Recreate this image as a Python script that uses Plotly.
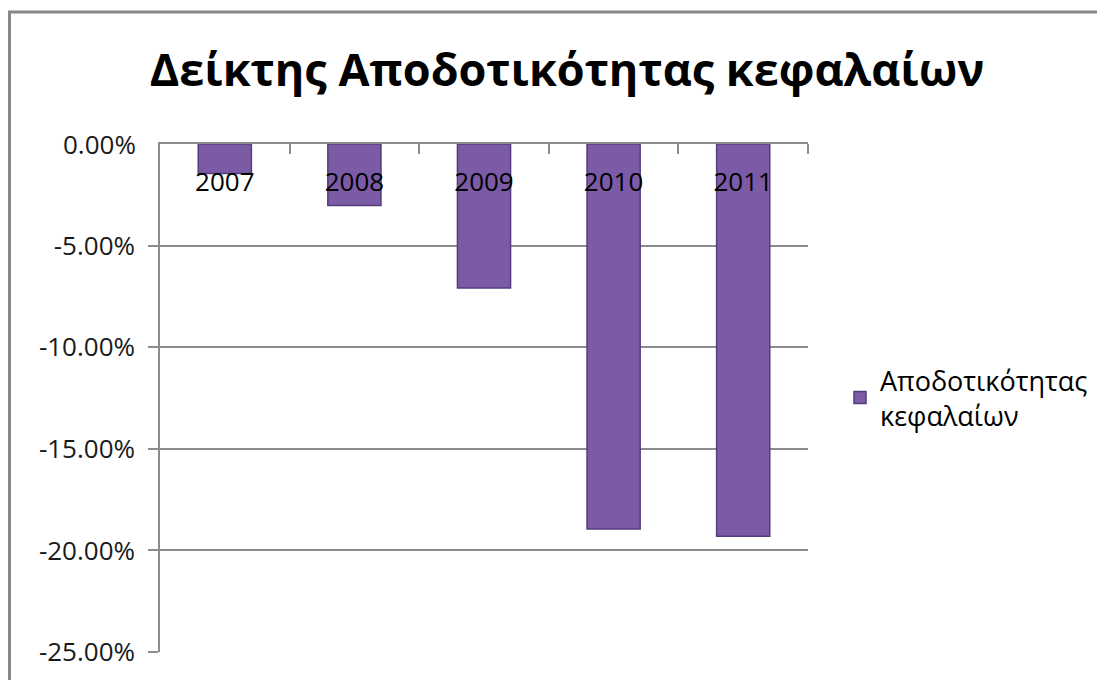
import plotly.graph_objects as go

years = ["2007", "2008", "2009", "2010", "2011"]
values = [-0.0145, -0.0302, -0.0708, -0.1895, -0.1930]
series_name = "Αποδοτικότητας<br>κεφαλαίων"
title_text = "Δείκτης Αποδοτικότητας κεφαλαίων"
y_ticks = [0, -0.05, -0.10, -0.15, -0.20, -0.25]
y_ticktext = ["0.00%", "-5.00%", "-10.00%", "-15.00%", "-20.00%", "-25.00%"]

xpos = list(range(len(years)))
boundaries = [i + 0.5 for i in xpos]

FONT = "Open Sans, DejaVu Sans, sans-serif"
YFONT = dict(family=FONT, size=26, color="#1a1a1a")

# page body adds an 8px offset; figure is sized to fit inside the window
W, H = 1097, 672
PL, PR, PT, PB = 152, 800, 136, 644

fig = go.Figure()
fig.add_trace(go.Bar(
    x=xpos, y=values, name=series_name, width=0.41,
    marker=dict(color="#7B5BA6", line=dict(color="#563C7C", width=1.5)),
    showlegend=True,
))

fig.update_layout(
    width=W, height=H,
    margin=dict(l=PL, r=W - PR, t=PT, b=H - PB),
    paper_bgcolor="white", plot_bgcolor="white",
    title=dict(text="<b>" + title_text + "</b>", x=559 / W, xanchor="center",
               y=1 - 62 / H, yanchor="middle", yref="container",
               font=dict(family=FONT, size=45, color="black")),
    xaxis=dict(
        range=[-0.5, len(years) - 0.5], side="top",
        tickmode="array", tickvals=xpos, ticktext=years,
        ticks="", ticklabelposition="inside", ticklabelstandoff=31,
        tickfont=dict(family=FONT, size=26, color="black"),
        showline=True, linecolor="#8c8c8c", linewidth=1.5,
        showgrid=False, zeroline=False, fixedrange=True,
        minor=dict(tickvals=boundaries, ticks="inside", ticklen=10,
                   tickcolor="#8c8c8c", tickwidth=1.5, showgrid=False),
    ),
    yaxis=dict(
        range=[-0.25, 0.00001], tickmode="array", tickvals=y_ticks, ticktext=y_ticktext,
        tickfont=YFONT, ticklabelstandoff=8,
        showline=True, linecolor="#8c8c8c", linewidth=1.5,
        ticks="outside", ticklen=10, tickcolor="#8c8c8c", tickwidth=1.5,
        showgrid=True, gridcolor="#8c8c8c", gridwidth=1.5,
        zeroline=False, fixedrange=True,
    ),
    legend=dict(x=(832 - PL) / (PR - PL), y=0.5, xanchor="left", yanchor="middle",
                font=dict(family=FONT, size=27, color="black"),
                bgcolor="rgba(0,0,0,0)", itemwidth=30),
    shapes=[dict(type="rect", xref="paper", yref="paper",
                 x0=(1.5 - PL) / (PR - PL), x1=1.6,
                 y0=-0.2, y1=(PB - 4) / (PB - PT),
                 line=dict(color="#888888", width=3), layer="below")],
)

# the top tick label is hidden by plotly where the top-side x axis sits; add it back
fig.add_annotation(x=0, xref="paper", y=y_ticks[0], yref="y", text=y_ticktext[0],
                   showarrow=False, xanchor="right", yanchor="middle", xshift=-22,
                   font=YFONT)

fig.write_html("out.html")
